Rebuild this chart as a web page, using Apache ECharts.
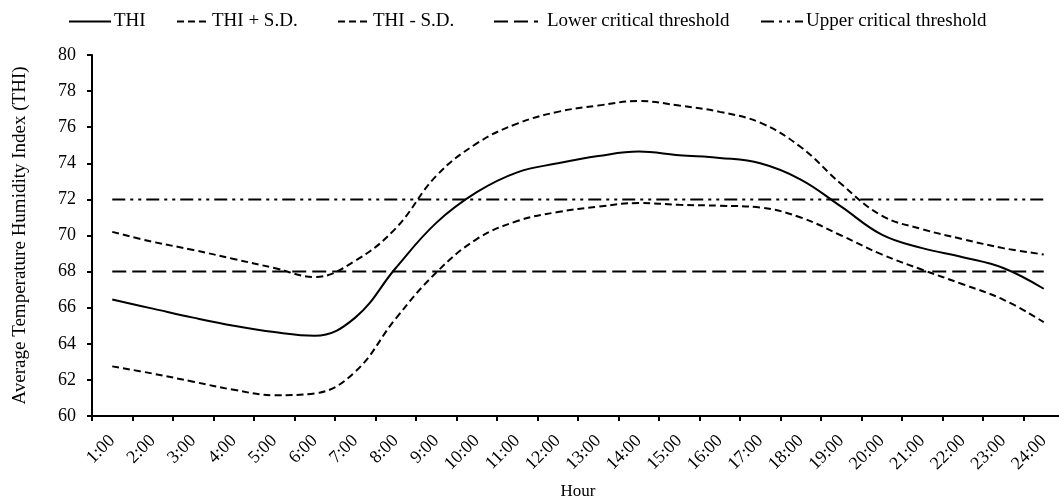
<!DOCTYPE html>
<html>
<head>
<meta charset="utf-8">
<script src="https://cdn.jsdelivr.net/npm/echarts@6/dist/echarts.min.js"></script>
<style>
    html, body { margin: 0; padding: 0; background: #fff; }
    #chart { width: 1059px; height: 498px; }
</style>
</head>
<body>
<div id="chart"></div>
<script type="text/javascript">
    // hours on the x axis
    var hours = ['1:00','2:00','3:00','4:00','5:00','6:00','7:00','8:00','9:00','10:00','11:00','12:00',
        '13:00','14:00','15:00','16:00','17:00','18:00','19:00','20:00','21:00','22:00','23:00','24:00'];
    // average THI
    var thi = [66.45, 65.95, 65.45, 65.0, 64.65, 64.45, 65.45, 68.2, 70.7, 72.4, 73.5, 74.0,
        74.4, 74.65, 74.45, 74.3, 74.0, 73.1, 71.6, 70.05, 69.3, 68.8, 68.2, 67.05];
    // THI + S.D.
    var thiUp = [70.2, 69.65, 69.2, 68.7, 68.2, 67.7, 68.6, 70.4, 73.3, 75.1, 76.2, 76.85,
        77.2, 77.45, 77.2, 76.85, 76.25, 74.9, 72.85, 71.1, 70.35, 69.8, 69.3, 68.95];
    // THI - S.D.
    var thiDown = [62.75, 62.35, 61.9, 61.45, 61.15, 61.25, 62.45, 65.4, 67.95, 69.8, 70.8, 71.3,
        71.6, 71.8, 71.7, 71.65, 71.55, 71.0, 70.0, 68.95, 68.1, 67.3, 66.45, 65.2];
    // critical thresholds
    var lowerCrit = [68, 68, 68, 68, 68, 68, 68, 68, 68, 68, 68, 68, 68, 68, 68, 68, 68, 68, 68, 68, 68, 68, 68, 68];
    var upperCrit = [72, 72, 72, 72, 72, 72, 72, 72, 72, 72, 72, 72, 72, 72, 72, 72, 72, 72, 72, 72, 72, 72, 72, 72];
    var yTicks = [60, 80, 2];

    var serif = 'Liberation Serif';
    var myChart = echarts.init(document.getElementById('chart'));

    // one legend per item so each sits where the original puts it
    function legendAt(name, left, w, pad) {
        return {
            data: [name],
            left: left,
            top: 12,
            padding: 0,
            itemWidth: w,
            itemHeight: 14,
            itemStyle: { opacity: 0 },
            textStyle: { fontFamily: serif, fontSize: 19, color: '#000', padding: [0, 0, 0, pad] }
        };
    }

    function lineSeries(name, data, dash, smooth) {
        return {
            name: name,
            type: 'line',
            data: data,
            symbol: 'none',
            smooth: smooth,
            silent: true,
            lineStyle: { color: '#000', width: 2, type: dash },
            z: 3
        };
    }

    var option = {
        animation: false,
        backgroundColor: '#fff',
        legend: [
            legendAt('THI', 68, 42, -2),
            legendAt('THI + S.D.', 176, 32, -2),
            legendAt('THI - S.D.', 337, 32, -2),
            legendAt('Lower critical threshold', 493, 44, 4),
            legendAt('Upper critical threshold', 760, 42, -2)
        ],
        grid: { left: 92, top: 55, width: 972, bottom: 82, outerBoundsMode: 'none', containLabel: false },
        xAxis: {
            type: 'category',
            data: hours,
            boundaryGap: true,
            name: 'Hour',
            nameLocation: 'middle',
            nameGap: 67,
            nameTextStyle: { fontFamily: serif, fontSize: 17, color: '#000' },
            axisLine: { lineStyle: { color: '#000', width: 2 } },
            axisTick: { show: true, length: 5, inside: false, lineStyle: { color: '#000', width: 2 } },
            axisLabel: { interval: 0, rotate: 45, margin: 22, fontFamily: serif, fontSize: 18, color: '#000' },
            splitLine: { show: false }
        },
        yAxis: {
            type: 'value',
            min: yTicks[0],
            max: yTicks[1],
            interval: yTicks[2],
            name: 'Average Temperature Humidity Index (THI)',
            nameLocation: 'middle',
            nameGap: 62,
            nameTextStyle: { fontFamily: serif, fontSize: 19, color: '#000' },
            axisLine: { show: true, lineStyle: { color: '#000', width: 2 } },
            axisTick: { show: true, length: 5, lineStyle: { color: '#000', width: 2 } },
            axisLabel: { margin: 16, fontFamily: serif, fontSize: 18, color: '#000' },
            splitLine: { show: false }
        },
        series: [
            lineSeries('THI', thi, 'solid', 0.4),
            lineSeries('THI + S.D.', thiUp, [7, 4], 0.4),
            lineSeries('THI - S.D.', thiDown, [7, 4], 0.4),
            lineSeries('Lower critical threshold', lowerCrit, [14, 6], false),
            lineSeries('Upper critical threshold', upperCrit, [13, 5, 3, 5, 3, 5], false)
        ]
    };

    myChart.setOption(option, true);
</script>
</body>
</html>
